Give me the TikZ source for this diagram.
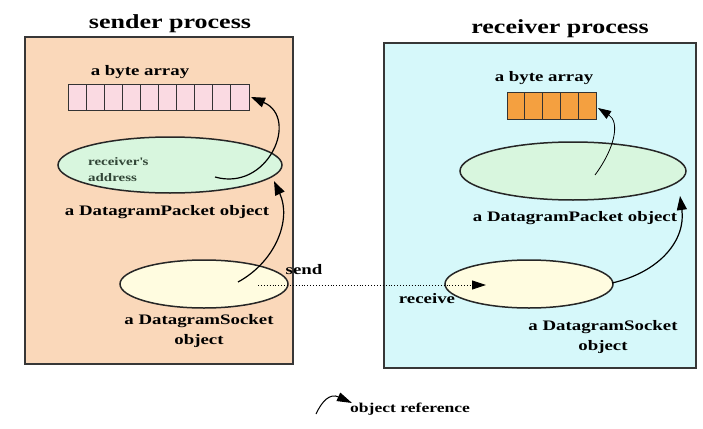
\documentclass[tikz,border=0pt]{standalone}
\usepackage{fontspec}
\setmainfont{Liberation Serif}[FakeStretch=1.3]
\usetikzlibrary{arrows.meta,shapes.geometric}
\definecolor{peach}{RGB}{250,216,186}
\definecolor{skyc}{RGB}{214,248,250}
\definecolor{pinkcell}{RGB}{250,218,226}
\definecolor{orangecell}{RGB}{244,160,64}
\definecolor{pktgreen}{RGB}{216,246,222}
\definecolor{sockyellow}{RGB}{255,252,224}
\definecolor{bordergray}{RGB}{55,55,55}
\definecolor{addrtext}{RGB}{50,70,55}
\tikzset{
  procbox/.style={draw=bordergray, line width=1.4pt, minimum width=#1, inner sep=0pt},
  ttl/.style={font=\fontsize{20}{22}\selectfont\bfseries, inner sep=0pt},
  lbl/.style={font=\fontsize{14.5}{20}\selectfont\bfseries, inner sep=0pt, align=center},
  cellbox/.style={draw=black!80, line width=0.9pt, minimum width=#1, minimum height=26pt, inner sep=0pt},
  obj/.style={ellipse, draw=black!85, line width=1.5pt, inner sep=0pt},
  ref/.style={line width=1.2pt, -{Triangle[length=14pt,width=10pt]}},
}
\begin{document}
\begin{tikzpicture}[x=1pt,y=-1pt]
\useasboundingbox (0,0) rectangle (703,428);
% process boxes
\node[procbox=268pt, minimum height=327pt, fill=peach] (sbox) at (159,200.5) {};
\node[procbox=312pt, minimum height=325pt, fill=skyc] (rbox) at (540,205.5) {};
\node[ttl] (stitle) at (170,24) {sender process};
\node[ttl] (rtitle) at (560,29) {receiver process};
% sender byte array
\node[lbl] (sarrlbl) at (140,72) {a byte array};
\foreach \i in {0,...,9} {
  \node[cellbox=18.1pt, fill=pinkcell] (sc\i) at ({68+18.1*\i+9.05},97) {};
}
% receiver byte array
\node[lbl] (rarrlbl) at (544,78) {a byte array};
\foreach \i in {0,...,4} {
  \node[cellbox=17.8pt, fill=orangecell, minimum height=27pt] (rc\i) at ({507+17.8*\i+8.9},105.5) {};
}
% sender objects
\node[obj, fill=pktgreen, minimum width=224pt, minimum height=56pt] (spkt) at (170,165) {};
\node[font=\fontsize{11.5}{16}\selectfont\bfseries, text=addrtext, align=left, inner sep=0pt, anchor=west] (addr) at (88,170) {receiver\textquotesingle s\\address};
\node[lbl] (spktlbl) at (167,212) {a DatagramPacket object};
\node[obj, fill=sockyellow, minimum width=168pt, minimum height=48pt] (ssock) at (204,284) {};
\node[lbl] (ssocklbl) at (199,331) {a DatagramSocket\\object};
% receiver objects
\node[obj, fill=pktgreen, minimum width=226pt, minimum height=58pt] (rpkt) at (573,171) {};
\node[lbl] (rpktlbl) at (575,218) {a DatagramPacket object};
\node[obj, fill=sockyellow, minimum width=168pt, minimum height=48pt] (rsock) at (529,284) {};
\node[lbl] (rsocklbl) at (603,337) {a DatagramSocket\\object};
% send / receive
\node[lbl] (sendlbl) at (304,270) {send};
\node[lbl] (recvlbl) at (427,299) {receive};
\coordinate (sendstart) at (258,285);
\coordinate (recvend) at (486,285);
\draw[line width=0.9pt, dotted, -{Triangle[length=14pt,width=9pt]}] (sendstart) -- (recvend);
% references in sender
\coordinate (s1a) at (238,282);
\coordinate (s1b) at (274,181);
\draw[ref] (s1a) .. controls (275,262) and (292,220) .. (s1b);
\coordinate (s2a) at (215,177);
\coordinate (s2b) at (251,97);
\draw[ref] (s2a) .. controls (268,192) and (300,118) .. (s2b);
% references in receiver
\coordinate (r1a) at (595,175);
\coordinate (r1b) at (598,108);
\draw[line width=0.8pt, -{Triangle[length=13pt,width=9pt]}] (r1a) .. controls (615,148) and (620,122) .. (r1b);
\coordinate (r2a) at (612,283);
\coordinate (r2b) at (680,196);
\draw[ref] (r2a) .. controls (660,272) and (686,240) .. (r2b);
% legend
\coordinate (lega) at (316,414);
\coordinate (legb) at (352,403);
\draw[line width=1pt, -{Triangle[length=15pt,width=9pt]}] (lega) .. controls (322,401) and (330,393) .. (legb);
\node[font=\fontsize{13.5}{16}\selectfont\bfseries, inner sep=0pt, anchor=west] (legtxt) at (350,409) {object reference};
\end{tikzpicture}
\end{document}
